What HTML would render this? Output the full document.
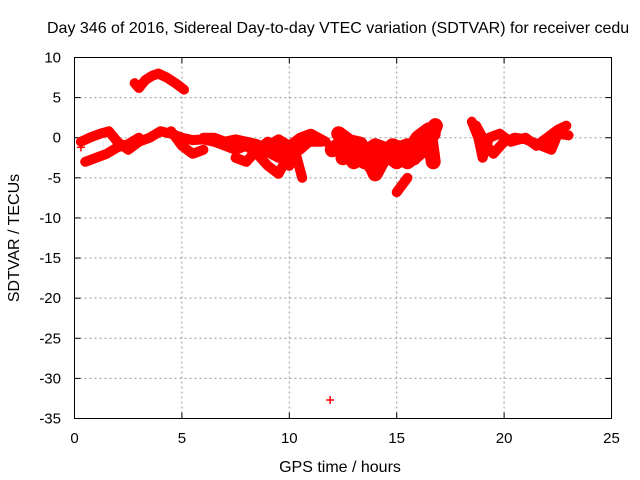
<!DOCTYPE html>
<html><head><meta charset="utf-8"><style>
body{margin:0;background:#fff}
svg{display:block;font-family:"Liberation Sans",sans-serif}
</style></head><body>
<svg id="c" width="640" height="480">
<text x="47" y="33" font-size="16">Day 346 of 2016, Sidereal Day-to-day VTEC variation (SDTVAR) for receiver cedu</text>
<text x="340" y="472" font-size="16" text-anchor="middle">GPS time / hours</text>
<text transform="translate(19,238) rotate(-90)" font-size="16" text-anchor="middle">SDTVAR / TECUs</text>
<g id="grid"></g><g id="data"></g>
<rect x="74.5" y="57.5" width="537" height="361" fill="none" stroke="#000"/>
</svg>
<script>
const xTicks=[0,5,10,15,20,25];
const yTicks=[10,5,0,-5,-10,-15,-20,-25,-30,-35];
const trackA=[[2.8,6.8],[3.0,6.2],[3.3,7.2],[3.6,7.7],[3.9,8.0],[4.3,7.5],[4.7,6.8],[5.1,6.0]];
const trackB=[[0.3,-0.5],[0.7,0],[1.2,0.5],[1.6,0.8],[2.0,-0.5],[2.5,-1.5],[3.0,-0.5],[3.5,0],[4.0,0.8],[4.5,0.5],[5.0,0],[5.5,-0.3],[6.0,-0.2],[6.5,-0.5]];
const trackC=[[0.5,-3],[1,-2.5],[1.5,-2],[2,-1.2],[2.5,-0.8],[3,0]];
const trackD=[[4.5,0.8],[5.0,-1],[5.5,-2.0],[6.0,-1.5]];
const trackE=[[6.5,-0.5],[7,-1],[7.5,-1.5],[8,-1],[8.5,-2],[9,-3.5],[9.5,-4.5],[10,-2],[10.5,-1],[11,-0.5],[11.5,-0.5]];
const trackF=[[7.5,-2.5],[8,-3],[8.5,-1.5],[9,-0.5],[9.5,-1.5],[10,-3.5],[10.3,-2],[10.6,-5]];
const trackG=[[9,-1],[9.5,-0.2],[10,-1],[10.5,0],[11,0.5],[11.7,-0.5]];
const trackM=[[6,0],[6.5,0],[7,-0.5],[7.5,-0.2],[8,-0.5],[8.5,-0.8],[9,-1.8],[9.5,-2.5],[10,-1],[10.5,-1.5],[11,-0.3]];
const trackH=[[12,-1.5],[12.5,-0.5],[13,-2],[13.5,-3],[14,-2],[14.5,-2.5],[15,-1.5],[15.5,-1],[16,-1.5],[16.5,-0.5],[16.8,1.5]];
const trackI=[[12.5,-2.5],[13,-1],[13.5,-1.5],[14,-4.5],[14.5,-2],[15,-3],[15.5,-2],[16,0],[16.5,1],[16.7,-3]];
const trackN=[[12.6,-1.5],[13,-3],[13.5,-2],[14,-1],[14.5,-1.5],[15,-2],[15.5,-3],[16,-2],[16.3,-0.5],[16.7,0.5]];
const trackO=[[12.3,0.5],[12.8,-0.5],[13.3,-0.8],[13.8,-3.5],[14.2,-3],[14.8,-1],[15.3,-1.5],[15.8,-2.5],[16.2,-1],[16.6,-2]];
const trackJ=[[15,-6.8],[15.5,-5]];
const trackK=[[18.5,2],[18.8,0],[19,-2.5],[19.3,0],[19.8,0.5],[20.3,-0.5],[21,0],[21.5,-1],[22,0],[22.5,1],[22.9,1.5]];
const trackL=[[18.7,1.5],[19.2,-1],[19.5,-2],[20,-0.5],[20.5,0],[21,-0.2],[22.2,-1.5],[22.5,0.5],[23,0.3]];
const isolated=[[11.9,-32.7],[0.3,-1.2],[22,-1.2],[12.1,-1.2],[12.6,-1.5]];
const tracks=[trackA,trackB,trackC,trackD,trackE,trackF,trackG,trackM,trackH,trackI,trackN,trackO,trackJ,trackK,trackL];
const denseTracks=[trackH,trackI,trackN,trackO];
const NS="http://www.w3.org/2000/svg";
const X0=74.5,X1=611.5,Y0=418.5,Y1=57.5;
const sx=v=>X0+(v-0)/(25-0)*(X1-X0);
const sy=v=>Y0-(v+35)/(10+35)*(Y0-Y1);
const grid=document.getElementById('grid'),data=document.getElementById('data');
function mk(tag,at,parent){const e=document.createElementNS(NS,tag);for(const k in at)e.setAttribute(k,at[k]);parent.appendChild(e);return e;}
xTicks.forEach(t=>{const x=sx(t);
 if(t>0&&t<25){const g=mk('line',{x1:x,x2:x,y1:Y0,y2:Y1,stroke:'#999','stroke-dasharray':'2,3'},grid);
 
 }
 mk('line',{x1:x,x2:x,y1:Y0,y2:Y0-6,stroke:'#000'},grid);mk('line',{x1:x,x2:x,y1:Y1,y2:Y1+6,stroke:'#000'},grid);
 const l=mk('text',{x:x,y:443,'font-size':15,'text-anchor':'middle'},grid);l.textContent=t;
 
 });
yTicks.forEach(t=>{const y=sy(t);
 if(t<10&&t>-35){const g=mk('line',{x1:X0,x2:X1,y1:y,y2:y,stroke:'#999','stroke-dasharray':'2,3'},grid);
 
 }
 mk('line',{x1:X0,x2:X0+6,y1:y,y2:y,stroke:'#000'},grid);mk('line',{x1:X1,x2:X1-6,y1:y,y2:y,stroke:'#000'},grid);
 const l=mk('text',{x:61,y:y+5,'font-size':15,'text-anchor':'end'},grid);l.textContent=t;
 
 });
function plus(p){const x=sx(p[0]),y=sy(p[1]);
 const m=mk('path',{d:`M${x-4},${y}H${x+4}M${x},${y-4}V${y+4}`,stroke:'#f00','stroke-width':1.5},data);
 
 }
tracks.forEach(tr=>{
 const w=denseTracks.includes(tr)?15:10;
 const pl=mk('polyline',{points:tr.map(p=>sx(p[0])+','+sy(p[1])).join(' '),fill:'none',stroke:'#f00','stroke-width':w,'stroke-linejoin':'round','stroke-linecap':'round'},data);
 
 
 tr.forEach(plus);});
isolated.forEach(plus);
</script>
</body></html>
